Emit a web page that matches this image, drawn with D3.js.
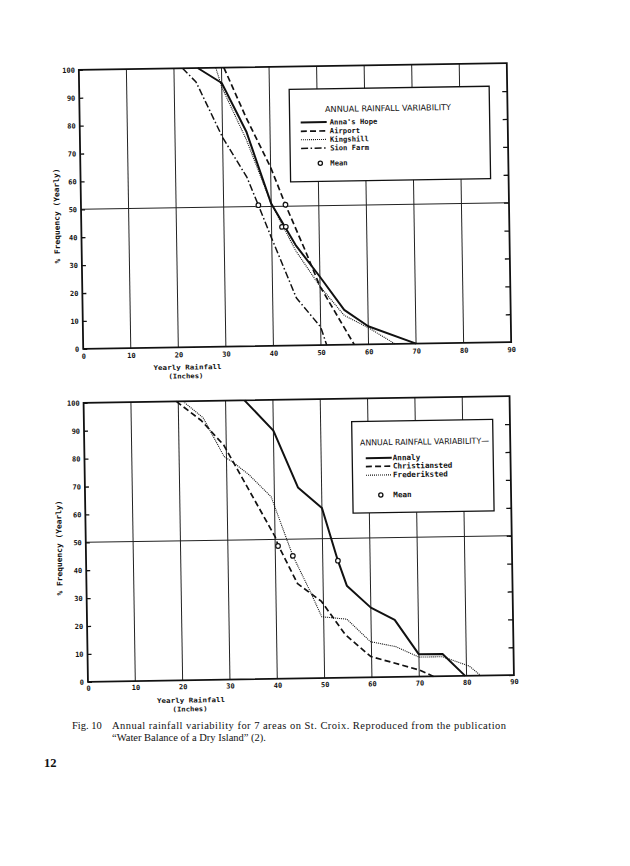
<!DOCTYPE html>
<html><head><meta charset="utf-8">
<script src="https://cdn.jsdelivr.net/npm/d3@7"></script>
<style>body{margin:0;background:#fff}svg{display:block}</style>
</head><body>
<svg id="c" width="630" height="866"></svg>
<script>
// ---------- data ----------
const xTicks = [0,10,20,30,40,50,60,70,80,90];
const yTicks = [0,10,20,30,40,50,60,70,80,90,100];
const legendTitle = "ANNUAL RAINFALL VARIABILITY";
const meanLabel = "Mean";
const xLabel1 = "Yearly Rainfall";
const xLabel2 = "(Inches)";
const yLabel = "% Frequency (Yearly)";

// top chart
const topNames = ["Anna's Hope","Airport","Kingshill","Sion Farm"];
const annasHope = [[25,100],[30,94.5],[35,77],[40,51],[45,36],[50,24.5],[55,12.5],[60,6.5],[70,0]];
const airport   = [[30.5,100],[35,82],[40,64],[43,50.5],[47,34],[50,21],[53,12],[57,0]];
const kingshill = [[28.8,100],[30,93],[35,74],[40,51],[45,34],[50,21],[55,10.5],[60,6],[65.6,0]];
const sionFarm  = [[21.8,100],[24.6,95],[30,75],[35,60.5],[37.3,50.5],[40,38.5],[45,17],[50,6.5],[51.2,0]];
const topMeans  = [[37.3,50.5],[43,50.5],[42.2,42.6],[43,42.6]];

// bottom chart
const bottomNames = ["Annaly","Christiansted","Frederiksted"];
const annaly        = [[34,100],[40,89],[45,68.5],[50,61],[53.2,42],[55,33],[60,25],[65,20.5],[70,8],[75,8],[79.7,0]];
const christiansted = [[19.6,100],[24.8,93],[29.5,84],[40,51],[40.6,48],[44.6,34],[49.6,27.5],[54.5,15.5],[59.8,7.5],[70,2.4],[73,0]];
const frederiksted  = [[21,100],[25.2,94],[29.5,80],[31.6,77.6],[34.7,73.3],[39.3,65.3],[43.7,44],[47.1,31.7],[49.6,22],[54.9,21],[59.8,12.8],[65.1,10.9],[70,7],[75,7],[80.6,3.5],[83,0]];
const bottomMeans   = [[40.6,47.6],[43.7,44],[53.2,42]];

const captionFig = "Fig. 10";
const captionLine1 = "Annual rainfall variability for 7 areas on St. Croix. Reproduced from the publication";
const captionLine2 = "\u201CWater Balance of a Dry Island\u201D (2).";
const pageNumber = "12";

// ---------- drawing ----------
const svg = d3.select("#c");
const MONO = "'DejaVu Sans Mono', monospace";

const styles = {
  solid:   {w:2.0, dash:null},
  dashed:  {w:1.7, dash:"6,3.2"},
  dotted:  {w:1.1, dash:"1,1"},
  dashdot: {w:1.5, dash:"7,2.5,1.5,2.5"}
};

function drawChart(cfg){
  const g = svg.append("g").attr("transform", `rotate(${cfg.angle},${cfg.cx},${cfg.cy})`);
  const x = d3.scaleLinear().domain([0,90]).range([cfg.left,cfg.right]);
  const y = d3.scaleLinear().domain([0,100]).range([cfg.bottom,cfg.top]);

  // vertical grid
  g.selectAll(null).data(xTicks.slice(1,-1)).join("line")
    .attr("x1",d=>x(d)).attr("x2",d=>x(d)).attr("y1",y(100)).attr("y2",y(0))
    .attr("stroke","#222").attr("stroke-width",1);
  // 50% line
  g.append("line").attr("x1",x(0)).attr("x2",x(90)).attr("y1",y(50)).attr("y2",y(50))
    .attr("stroke","#222").attr("stroke-width",1);

  // axes
  const ya = g.append("g").attr("transform",`translate(${x(0)},0)`)
    .call(d3.axisLeft(y).tickValues(yTicks).tickSizeInner(-4).tickSizeOuter(0).tickPadding(4));
  const yr = g.append("g").attr("transform",`translate(${x(90)},0)`)
    .call(d3.axisRight(y).tickValues(yTicks.slice(1,-1)).tickSizeInner(-5).tickSizeOuter(0).tickFormat(""));
  const xa = g.append("g").attr("transform",`translate(0,${y(0)})`)
    .call(d3.axisBottom(x).tickValues(xTicks).tickSize(0).tickPadding(cfg.xPad));
  [ya,yr,xa].forEach(a=>{
    a.select(".domain").remove();
    a.selectAll("line").attr("stroke","#111").attr("stroke-width",1.3);
    a.selectAll("text").attr("font-family",MONO).attr("font-size",7).attr("font-weight","bold").attr("fill","#111");
  });

  // frame
  g.append("rect").attr("x",x(0)).attr("y",y(100)).attr("width",x(90)-x(0)).attr("height",y(0)-y(100))
    .attr("fill","none").attr("stroke","#111").attr("stroke-width",1.8);

  // legend box (white, covers grid)
  const L = cfg.legend;
  g.append("rect").attr("x",L.x).attr("y",L.y).attr("width",L.w).attr("height",L.h)
    .attr("fill","#fff").attr("stroke","#111").attr("stroke-width",1.3);
  g.append("text").attr("x",L.titleX).attr("y",L.titleY).attr("dominant-baseline","central")
    .attr("font-family","'DejaVu Sans Condensed','Liberation Sans',sans-serif").attr("font-size",8.3)
    .attr("textLength",L.titleLen).attr("lengthAdjust","spacingAndGlyphs").attr("fill","#111")
    .text(L.title);

  // series
  const line = d3.line().x(d=>x(d[0])).y(d=>y(d[1]));
  cfg.series.forEach((s,i)=>{
    const st = styles[s.style];
    g.append("path").datum(s.data).attr("d",line).attr("fill","none")
      .attr("stroke","#111").attr("stroke-width",st.w).attr("stroke-dasharray",st.dash)
      .attr("stroke-linejoin","round");
    const ry = L.rows[i];
    g.append("line").attr("x1",L.sx1).attr("x2",L.sx2).attr("y1",ry).attr("y2",ry)
      .attr("stroke","#111").attr("stroke-width",st.w).attr("stroke-dasharray",st.dash);
    g.append("text").attr("x",L.tx).attr("y",ry).attr("dominant-baseline","central")
      .attr("font-family",MONO).attr("font-weight","bold").attr("font-size",L.fs).attr("fill","#111")
      .text(s.name);
  });
  // means
  g.selectAll(null).data(cfg.means).join("circle")
    .attr("cx",d=>x(d[0])).attr("cy",d=>y(d[1])).attr("r",2.3)
    .attr("fill","#fff").attr("stroke","#111").attr("stroke-width",1.2);
  g.append("circle").attr("cx",L.mx).attr("cy",L.my).attr("r",2.1)
    .attr("fill","#fff").attr("stroke","#111").attr("stroke-width",1.3);
  g.append("text").attr("x",L.tx).attr("y",L.my).attr("dominant-baseline","central")
    .attr("font-family",MONO).attr("font-weight","bold").attr("font-size",L.fs).attr("fill","#111")
    .text(meanLabel);

  // axis titles
  g.append("text").attr("transform",`translate(${cfg.yl[0]},${cfg.yl[1]}) rotate(-90)`)
    .attr("text-anchor","middle").attr("dominant-baseline","central")
    .attr("font-family",MONO).attr("font-weight","bold").attr("font-size",7.6)
    .attr("textLength",95).attr("lengthAdjust","spacingAndGlyphs").attr("fill","#111").text(yLabel);
  g.append("text").attr("x",cfg.xl1[0]).attr("y",cfg.xl1[1]).attr("text-anchor","middle").attr("dominant-baseline","central")
    .attr("font-family",MONO).attr("font-weight","bold").attr("font-size",6.6)
    .attr("textLength",68).attr("lengthAdjust","spacingAndGlyphs").attr("fill","#111").text(xLabel1);
  g.append("text").attr("x",cfg.xl2[0]).attr("y",cfg.xl2[1]).attr("text-anchor","middle").attr("dominant-baseline","central")
    .attr("font-family",MONO).attr("font-weight","bold").attr("font-size",6.6)
    .attr("textLength",35).attr("lengthAdjust","spacingAndGlyphs").attr("fill","#111").text(xLabel2);
}

drawChart({
  angle:-0.9, cx:295, cy:206, left:81, right:509, top:66.5, bottom:345.5, xPad:5,
  series:[
    {name:topNames[0], data:annasHope, style:"solid"},
    {name:topNames[1], data:airport, style:"dashed"},
    {name:topNames[2], data:kingshill, style:"dotted"},
    {name:topNames[3], data:sionFarm, style:"dashdot"}
  ],
  means:topMeans,
  legend:{x:291,y:89.3,w:200,h:92.5,title:legendTitle,titleX:326.5,titleY:109.5,titleLen:126,
    rows:[122.6,131.4,139.9,148.5], sx1:302, sx2:328, tx:331, mx:321, my:163.6, fs:7.2},
  yl:[56.8,212.3], xl1:[185,365.8], xl2:[183.3,374.6]
});

drawChart({
  angle:-0.9, cx:298.75, cy:539, left:85.75, right:511.75, top:399.5, bottom:678.5, xPad:4,
  series:[
    {name:bottomNames[0], data:annaly, style:"solid"},
    {name:bottomNames[1], data:christiansted, style:"dashed"},
    {name:bottomNames[2], data:frederiksted, style:"dotted"}
  ],
  means:bottomMeans,
  legend:{x:353.5,y:422.5,w:141,h:91.5,title:legendTitle+"\u2014",titleX:361.5,titleY:443.5,titleLen:129,
    rows:[459.3,467.6,476.3], sx1:367, sx2:393, tx:394, mx:381.5, my:496.3, fs:7.6},
  yl:[59.2,544.2], xl1:[188.5,698.8], xl2:[187.4,707.6]
});

// caption
const cap = svg.append("g").attr("font-family","'Liberation Serif','Times New Roman',serif").attr("fill","#111");
cap.append("text").attr("x",72).attr("y",728.5).attr("font-size",10.5).text(captionFig);
cap.append("text").attr("x",112).attr("y",728.5).attr("font-size",10.5)
  .attr("textLength",394).attr("lengthAdjust","spacing").text(captionLine1);
cap.append("text").attr("x",112).attr("y",740.5).attr("font-size",10.5).text(captionLine2);
cap.append("text").attr("x",44).attr("y",767).attr("font-size",12.5).attr("font-weight","bold").text(pageNumber);
</script>
</body></html>
